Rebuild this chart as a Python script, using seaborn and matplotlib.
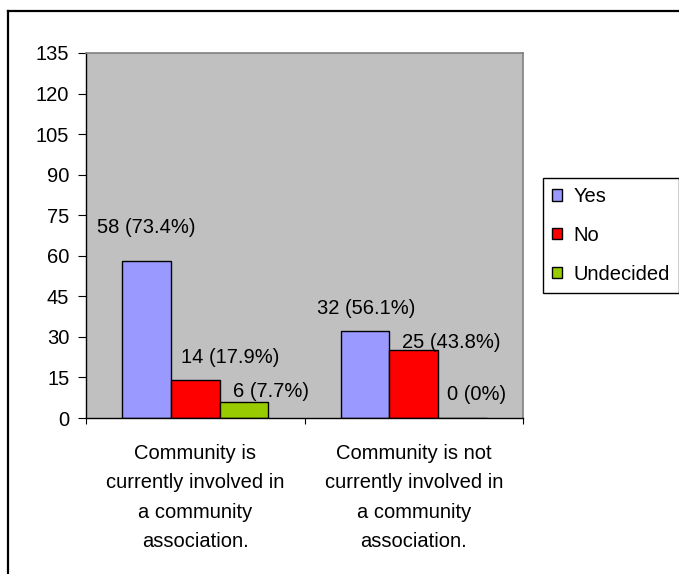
import matplotlib
matplotlib.use("Agg")
import matplotlib.pyplot as plt
from matplotlib.lines import Line2D
import seaborn as sns
import pandas as pd

categories = ["Community is\ncurrently involved in\na community\nassociation.",
              "Community is not\ncurrently involved in\na community\nassociation."]
responses = ["Yes", "No", "Undecided"]
yes_counts = [58, 32]
no_counts = [14, 25]
undecided_counts = [6, 0]
yes_labels = ["58 (73.4%)", "32 (56.1%)"]
no_labels = ["14 (17.9%)", "25 (43.8%)"]
undecided_labels = ["6 (7.7%)", "0 (0%)"]
y_ticks = list(range(0, 136, 15))

colors = {"Yes": "#9999FF", "No": "#FF0000", "Undecided": "#99CC00"}

rows = []
for i, c in enumerate(categories):
    rows.append((c, "Yes", yes_counts[i]))
    rows.append((c, "No", no_counts[i]))
    rows.append((c, "Undecided", undecided_counts[i]))
df = pd.DataFrame(rows, columns=["category", "response", "count"])

FS = 14.5
plt.rcParams["font.family"] = ["Liberation Sans", "DejaVu Sans"]
plt.rcParams["font.size"] = FS

W, H = 679, 574
fig = plt.figure(figsize=(W / 100, H / 100), dpi=100)
ax = fig.add_axes([86 / W, 1 - 418 / H, (523 - 86) / W, (418 - 53) / H])
ax.set_facecolor("#C0C0C0")

sns.barplot(data=df, x="category", y="count", hue="response",
            hue_order=responses, order=categories, palette=colors,
            width=0.67, gap=0, edgecolor="black", linewidth=1.0,
            saturation=1, ax=ax, legend=True, errorbar=None)

ax.set_xlim(-0.5, 1.5)
ax.set_ylim(0, 135)
ax.set_yticks(y_ticks)
ax.tick_params(axis="y", direction="out", length=6, width=0.8, pad=6,
               labelsize=FS, colors="black")
ax.set_xticks([0, 1])
ax.set_xticklabels(categories, fontsize=FS, linespacing=1.7)
ax.tick_params(axis="x", which="major", length=0, pad=18.5)
ax.set_xticks([-0.5, 0.5, 1.5], minor=True)
ax.tick_params(axis="x", which="minor", direction="out", length=4, width=0.8)
ax.set_xlabel("")
ax.set_ylabel("")
ax.grid(False)

for s in ["left", "bottom"]:
    ax.spines[s].set_color("black")
    ax.spines[s].set_linewidth(1.0)
for s in ["top", "right"]:
    ax.spines[s].set_color("#808080")
    ax.spines[s].set_linewidth(1.2)

label_sets = [yes_labels, no_labels, undecided_labels]
offsets = [[(0, 34), (1, 23)], [(35, 23), (37, 8)], [(27, 10), (14, 23)]]
for cont, labs, offs in zip(ax.containers, label_sets, offsets):
    for bar, lab, (dx, dy) in zip(cont, labs, offs):
        xc = bar.get_x() + bar.get_width() / 2
        ax.annotate(lab, (xc, bar.get_height()), xytext=(dx, dy),
                    textcoords="offset pixels", ha="center", va="center",
                    fontsize=FS, color="black")

handles, labels = ax.get_legend_handles_labels()
ax.get_legend().remove()
leg = fig.legend(handles, labels, loc="upper left",
                 bbox_to_anchor=(543 / W, 1 - 178 / H), frameon=True,
                 fancybox=False, shadow=False, framealpha=1,
                 edgecolor="black", fontsize=FS, handlelength=0.5,
                 handleheight=0.5, handletextpad=0.55, labelspacing=0.98,
                 borderpad=0.45, borderaxespad=0)
leg.get_frame().set_linewidth(1.0)

fig.add_artist(Line2D([8 / W, 8 / W], [1 - 11 / H, 0], color="black", lw=1.6))
fig.add_artist(Line2D([8 / W, 1], [1 - 11 / H, 1 - 11 / H], color="black", lw=1.6))

fig.savefig("out.png", dpi=100)
